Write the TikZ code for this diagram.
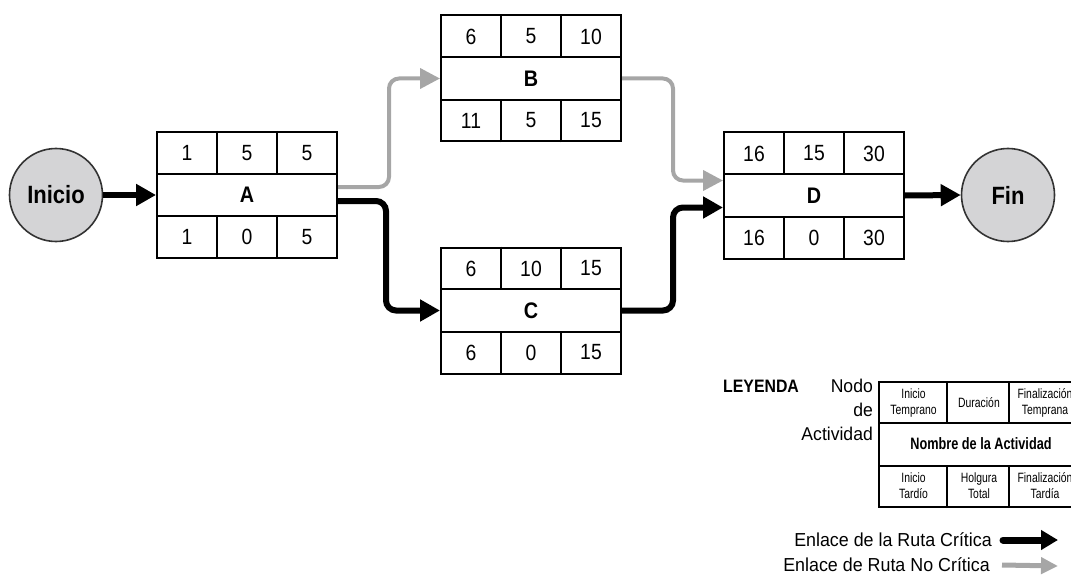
\documentclass[tikz,border=0pt]{standalone}
\usepackage{fontspec}
\setmainfont{Liberation Sans}[FakeStretch=0.88]
\newfontfamily\narrowfont{Liberation Sans}[FakeStretch=0.77]
\newfontfamily\widefont{Liberation Sans}[FakeStretch=0.95]
\usetikzlibrary{arrows.meta,calc}

\definecolor{slackgray}{HTML}{A6A6A6}
\definecolor{circfill}{HTML}{D4D4D6}
\definecolor{circline}{HTML}{333333}

\tikzset{
  actbox/.style={draw, line width=2pt, minimum width=180pt, minimum height=126pt,
                 inner sep=0pt, fill=white},
  cell/.style={line width=2pt},
  num/.style={font=\fontsize{22}{26}\selectfont, inner sep=0pt},
  actname/.style={font=\bfseries\fontsize{22.5}{26}\selectfont, inner sep=0pt},
  endpoint/.style={circle, draw=circline, line width=1.6pt, fill=circfill,
                   minimum size=93pt, inner sep=0pt,
                   font=\bfseries\fontsize{25}{29}\selectfont},
  critlink/.style={line width=6pt, rounded corners=10pt,
                   -{Triangle[length=20pt,width=21pt]}},
  slacklink/.style={draw=slackgray, line width=4pt, rounded corners=10pt,
                    -{Triangle[length=20pt,width=20pt]}},
  legtext/.style={font=\narrowfont\fontsize{13.5}{16}\selectfont, align=center, inner sep=0pt},
  linktext/.style={font=\widefont\fontsize{18.8}{23}\selectfont, anchor=east, inner sep=0pt},
}

% activity box: #1 name, #2 centre, #3 label,
% #4-#6 early start / duration / early finish, #7-#9 late start / slack / late finish
\newcommand\activity[9]{%
  \node[actbox] (#1) at (#2) {};
  \draw[cell] ($(#1.north west)!1/3!(#1.south west)$) -- ($(#1.north east)!1/3!(#1.south east)$);
  \draw[cell] ($(#1.north west)!2/3!(#1.south west)$) -- ($(#1.north east)!2/3!(#1.south east)$);
  \foreach \fr in {1/3,2/3}{
    \draw[cell] ($(#1.north west)!\fr!(#1.north east)$) -- ++(0,42);
    \draw[cell] ($(#1.south west)!\fr!(#1.south east)$) -- ++(0,-42);
  }
  \node[num] (#1-es) at ([xshift=-60pt,yshift=42pt]#1.center) {#4};
  \node[num] (#1-du) at ([yshift=42pt]#1.center) {#5};
  \node[num] (#1-ef) at ([xshift=60pt,yshift=42pt]#1.center) {#6};
  \node[actname] (#1-name) at (#1.center) {#3};
  \node[num] (#1-ls) at ([xshift=-60pt,yshift=-42pt]#1.center) {#7};
  \node[num] (#1-sl) at ([yshift=-42pt]#1.center) {#8};
  \node[num] (#1-lf) at ([xshift=60pt,yshift=-42pt]#1.center) {#9};
}

\begin{document}
\begin{tikzpicture}[x=1pt,y=-1pt]
\useasboundingbox (0,0) rectangle (1071,575);

% start and end events
\node[endpoint] (ini) at (56,195) {Inicio};
\node[endpoint] (fin) at (1008,195) {Fin};

% activities
\activity{A}{247,195}{A}{1}{5}{5}{1}{0}{5}
\activity{B}{531,78.5}{B}{6}{5}{10}{11}{5}{15}
\activity{C}{531,310.5}{C}{6}{10}{15}{6}{0}{15}
\activity{D}{814,195.5}{D}{16}{15}{30}{16}{0}{30}

% links
\draw[critlink] (ini.east) -- (A.west);
\draw[slacklink] ([yshift=8pt]A.east) -- ++(51,0) |- (B.west);
\draw[critlink] ([yshift=-6pt]A.east) -- ++(48,0) |- (C.west);
\draw[slacklink] (B.east) -- ++(51,0) |- ([yshift=15pt]D.west);
\draw[critlink] (C.east) -- ++(51,0) |- ([yshift=-12pt]D.west);
\draw[critlink] (D.east) -- (fin.west);

% legend
\node[anchor=north west, inner sep=0pt, font=\bfseries\fontsize{18}{22}\selectfont]
  (leyenda) at (723,380) {LEYENDA};
\node[anchor=north east, inner sep=0pt, align=right, font=\widefont\fontsize{18.5}{24}\selectfont]
  (legnode) at (873,379) {Nodo\\de\\Actividad};

\node[draw, line width=2pt, minimum width=201pt, minimum height=125pt, inner sep=0pt]
  (legbox) at (979.5,444.5) {};
\draw[cell] ($(legbox.north west)!1/3!(legbox.south west)$) -- ($(legbox.north east)!1/3!(legbox.south east)$);
\draw[cell] ($(legbox.north west)!2/3!(legbox.south west)$) -- ($(legbox.north east)!2/3!(legbox.south east)$);
\foreach \dx in {69,131}{
  \draw[cell] ([xshift=\dx pt]legbox.north west) -- ++(0,41.7);
  \draw[cell] ([xshift=\dx pt]legbox.south west) -- ++(0,-41.7);
}
\node[legtext] (leg-es) at (913.5,403) {Inicio\\Temprano};
\node[legtext] (leg-du) at (979,403) {Duración};
\node[legtext] (leg-ef) at (1045,403) {Finalización\\Temprana};
\node[inner sep=0pt, font=\narrowfont\bfseries\fontsize{16.5}{20}\selectfont] (leg-name) at (981,444) {Nombre de la Actividad};
\node[legtext] (leg-ls) at (913.5,486) {Inicio\\Tardío};
\node[legtext] (leg-sl) at (979,486) {Holgura\\Total};
\node[legtext] (leg-lf) at (1045,486) {Finalización\\Tardía};

\node[linktext] (critlabel) at (992,540) {Enlace de la Ruta Crítica};
\node[linktext] (slacklabel) at (990,565) {Enlace de Ruta No Crítica};
\coordinate (critend) at (1058,540);
\coordinate (slackend) at (1058,566);
\draw[line width=7pt, line cap=round, -{Triangle[length=17pt,width=19pt]}]
  ([xshift=11pt]critlabel.east) -- (critend);
\draw[slackgray, line width=5pt, -{Triangle[length=17pt,width=16pt]}]
  ([xshift=12pt]slacklabel.east) -- (slackend);
\end{tikzpicture}
\end{document}
